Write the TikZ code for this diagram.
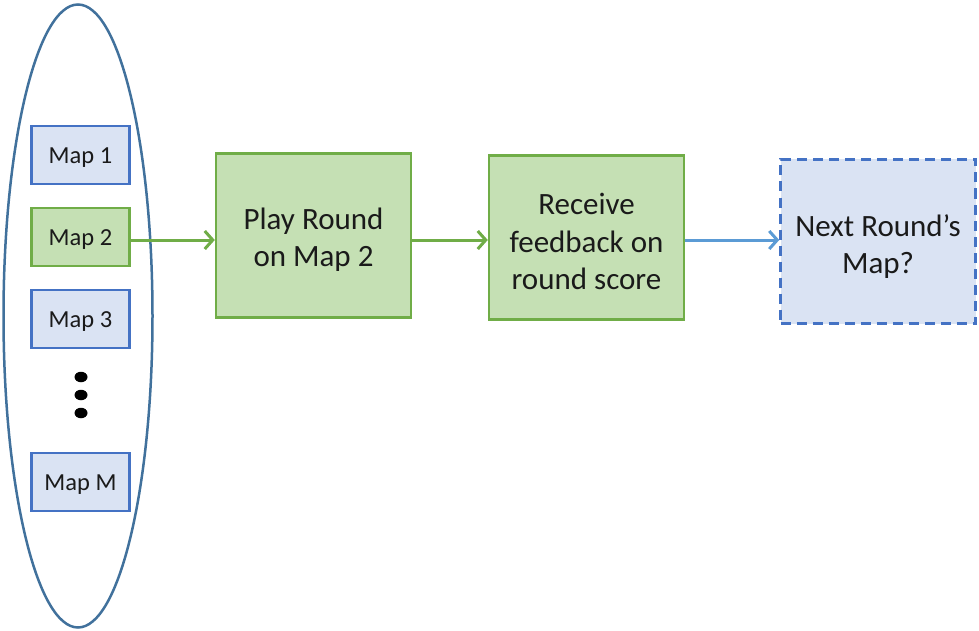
\documentclass[tikz,border=0pt]{standalone}
\usepackage{fontspec}
\setmainfont{Carlito}
\usetikzlibrary{arrows.meta,shapes.geometric}
\definecolor{gfill}{HTML}{C5E0B4}
\definecolor{gdraw}{HTML}{70AD47}
\definecolor{bfill}{HTML}{DAE3F3}
\definecolor{bdraw}{HTML}{4472C4}
\definecolor{edraw}{HTML}{41719C}
\definecolor{barrow}{HTML}{5B9BD5}
\definecolor{txt}{HTML}{1A1A1A}
\tikzset{
  maptext/.style={inner sep=0pt, font=\fontsize{24.5}{29}\selectfont, text=txt, yshift=-3pt},
  steptext/.style={inner sep=0pt, align=center, font=\fontsize{31}{37.5}\selectfont, text=txt, yshift=-4pt},
  mapbox/.style={draw=bdraw, fill=bfill, line width=2.5pt, minimum width=98pt, minimum height=58pt, inner sep=0pt},
  mapgreen/.style={mapbox, draw=gdraw, fill=gfill},
  stepbox/.style={draw=gdraw, fill=gfill, line width=2.5pt, minimum width=195pt, minimum height=164pt, inner sep=0pt},
  nextbox/.style={stepbox, draw=bdraw, fill=bfill, dash pattern=on 10pt off 6pt},
  garrow/.style={draw=gdraw, line width=3pt, -{Straight Barb[length=8pt,width=18pt,line width=3pt]}},
  barrowst/.style={garrow, draw=barrow},
  dot/.style={fill=black, ellipse, minimum width=13pt, minimum height=10.5pt, inner sep=0pt}
}
\begin{document}
\begin{tikzpicture}[x=1pt,y=-1pt]
\useasboundingbox (0,0) rectangle (979,631);
\node[draw=edraw, line width=2.5pt, ellipse, minimum width=149pt, minimum height=623pt, inner sep=0pt] (pool) at (78,316) {};
\node[mapbox, label={[maptext]center:Map 1}] (m1) at (80.5,155) {};
\node[mapgreen, label={[maptext]center:Map 2}] (m2) at (80.5,237) {};
\node[mapbox, label={[maptext]center:Map 3}] (m3) at (80.5,319) {};
\node[dot] (d1) at (81,377) {};
\node[dot] (d2) at (81,395) {};
\node[dot] (d3) at (81,413) {};
\node[mapbox, label={[maptext]center:Map M}] (mm) at (80.5,482) {};
\node[stepbox, label={[steptext]center:Play Round\\on Map 2}] (play) at (313.5,235.5) {};
\node[stepbox, label={[steptext]center:Receive\\feedback on\\round score}] (recv) at (586.5,237.5) {};
\node[nextbox, label={[steptext, yshift=-1pt]center:Next Round’s\\Map?}] (next) at (878,241.5) {};
\coordinate (a1) at (130,240);
\draw[garrow] (m2.east |- a1) -- (play.west |- a1);
\draw[garrow] (play.east |- a1) -- (recv.west |- a1);
\draw[barrowst] (recv.east |- a1) -- (next.west |- a1);
\end{tikzpicture}
\end{document}
